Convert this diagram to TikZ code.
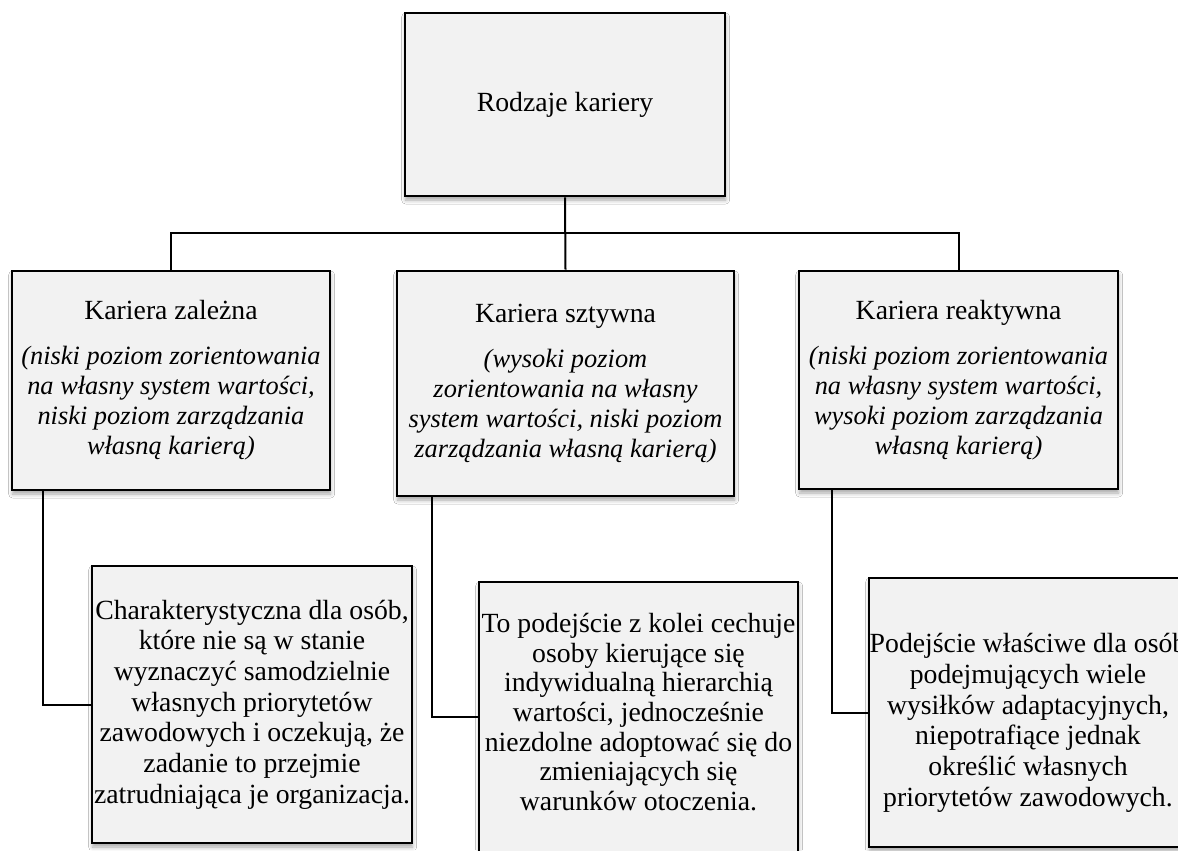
\documentclass[tikz,border=0pt]{standalone}
\usepackage{fontspec}
\setmainfont{Liberation Serif}
\usetikzlibrary{shadows.blur}
\definecolor{boxfill}{HTML}{F2F2F2}
\newcommand{\itline}[1]{{\fontsize{19.8}{22.5}\selectfont\itshape #1}}
\tikzset{
  box/.style={draw=black, line width=1.9pt, fill=boxfill, rectangle,
    align=center, inner sep=0pt,
    font=\fontsize{20.8}{22.5}\selectfont,
    blur shadow={shadow xshift=0.5pt, shadow yshift=-3pt,
      shadow blur radius=3pt, shadow opacity=35}},
  note/.style={align=center, inner sep=0pt,
    font=\fontsize{20.8}{23}\selectfont},
  conn/.style={draw=black, line width=1.5pt}
}
\begin{document}
\begin{tikzpicture}[x=0.75pt,y=-0.75pt]
\useasboundingbox (0,0) rectangle (1178,850);
\clip (0,0) rectangle (1178,850);
\fill[white] (0,0) rectangle (1178,850);

% root
\node[box, minimum width=240pt, minimum height=137.25pt] (root) at (565,104.5)
  {Rodzaje kariery};

% second level
\node[box, minimum width=238.5pt, minimum height=164.25pt] (kz) at (171,380.5)
  {Kariera zależna\\[11pt]
   \itline{(niski poziom zorientowania}\\
   \itline{na własny system wartości,}\\
   \itline{niski poziom zarządzania}\\
   \itline{własną karierą)}};
\node[box, minimum width=252.75pt, minimum height=168.75pt] (ks) at (565.5,383.5)
  {Kariera sztywna\\[11pt]
   \itline{(wysoki poziom}\\
   \itline{zorientowania na własny}\\
   \itline{system wartości, niski poziom}\\
   \itline{zarządzania własną karierą)}};
\node[box, minimum width=239.25pt, minimum height=163.5pt] (kr) at (958.5,380)
  {Kariera reaktywna\\[11pt]
   \itline{(niski poziom zorientowania}\\
   \itline{na własny system wartości,}\\
   \itline{wysoki poziom zarządzania}\\
   \itline{własną karierą)}};

% descriptions
\node[box, font=\fontsize{20.8}{23}\selectfont,
      minimum width=240pt, minimum height=207.75pt] (dA) at (252,704.5)
  {Charakterystyczna dla osób,\\
   które nie są w stanie\\
   wyznaczyć samodzielnie\\
   własnych priorytetów\\
   zawodowych i oczekują, że\\
   zadanie to przejmie\\
   zatrudniająca je organizacja.};
\node[box, minimum width=239.25pt, minimum height=223.5pt] (dB) at (638.5,731) {};
\node[note, font=\fontsize{20.8}{22.2}\selectfont] (tB) at (638.5,712)
  {To podejście z kolei cechuje\\
   osoby kierujące się\\
   indywidualną hierarchią\\
   wartości, jednocześnie\\
   niezdolne adoptować się do\\
   zmieniających się\\
   warunków otoczenia.};
\node[box, minimum width=238.5pt, minimum height=201.75pt] (dC) at (1028,712.5) {};
\node[note] (tC) at (1028,723)
  {Podejście właściwe dla osób\\
   podejmujących wiele\\
   wysiłków adaptacyjnych,\\
   niepotrafiące jednak\\
   określić własnych\\
   priorytetów zawodowych.};

% connectors
\coordinate (bus) at (565,233);
\coordinate (elbowA) at (43,704.5);
\coordinate (elbowB) at (432,717);
\coordinate (elbowC) at (832,712.5);
\draw[conn] (root.south) -- (ks.north);
\draw[conn] (kz.north) |- (bus) -| (kr.north);
\draw[conn] (kz.south -| elbowA) |- (dA.west);
\draw[conn] (ks.south -| elbowB) -- (elbowB) -- (elbowB -| dB.west);
\draw[conn] (kr.south -| elbowC) |- (dC.west);
\end{tikzpicture}
\end{document}
